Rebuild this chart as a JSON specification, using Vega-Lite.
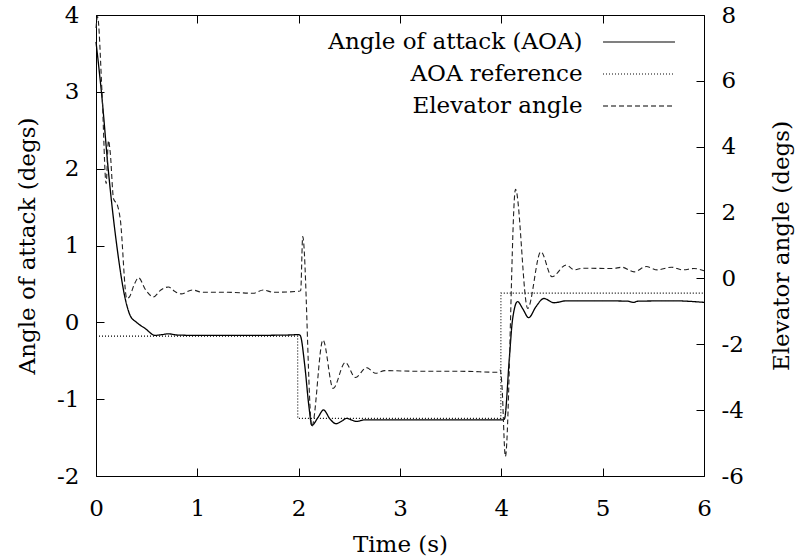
{
  "$schema": "https://vega.github.io/schema/vega-lite/v6.json",
  "width": 608,
  "height": 461,
  "autosize": {"type": "none"},
  "padding": {"left": 96, "top": 15, "right": 97, "bottom": 84},
  "background": "white",
  "config": {
    "view": {"stroke": "black", "strokeWidth": 1},
    "font": "DejaVu Serif",
    "axis": {
      "grid": false,
      "domain": false,
      "tickColor": "black",
      "tickSize": -8,
      "tickWidth": 1,
      "labelFlush": false,
      "labelOverlap": false,
      "labelFont": "DejaVu Serif",
      "labelFontSize": 23,
      "labelColor": "black",
      "titleFont": "DejaVu Serif",
      "titleFontSize": 23,
      "titleFontWeight": "normal",
      "titleColor": "black"
    }
  },
  "datasets": {
    "left": [
      {"t": 0, "v": 3.65, "series": "Angle of attack (AOA)"},
      {"t": 0.057, "v": 2.95, "series": "Angle of attack (AOA)"},
      {"t": 0.123, "v": 1.96, "series": "Angle of attack (AOA)"},
      {"t": 0.205, "v": 1.0, "series": "Angle of attack (AOA)"},
      {"t": 0.288, "v": 0.31, "series": "Angle of attack (AOA)"},
      {"t": 0.337, "v": 0.09, "series": "Angle of attack (AOA)"},
      {"t": 0.4, "v": 0.0, "series": "Angle of attack (AOA)"},
      {"t": 0.485, "v": -0.08, "series": "Angle of attack (AOA)"},
      {"t": 0.584, "v": -0.17, "series": "Angle of attack (AOA)"},
      {"t": 0.65, "v": -0.16, "series": "Angle of attack (AOA)"},
      {"t": 0.715, "v": -0.15, "series": "Angle of attack (AOA)"},
      {"t": 0.8, "v": -0.165, "series": "Angle of attack (AOA)"},
      {"t": 1.0, "v": -0.17, "series": "Angle of attack (AOA)"},
      {"t": 1.5, "v": -0.17, "series": "Angle of attack (AOA)"},
      {"t": 1.9, "v": -0.165, "series": "Angle of attack (AOA)"},
      {"t": 2.0, "v": -0.16, "series": "Angle of attack (AOA)"},
      {"t": 2.015, "v": -0.17, "series": "Angle of attack (AOA)"},
      {"t": 2.06, "v": -0.56, "series": "Angle of attack (AOA)"},
      {"t": 2.1, "v": -1.08, "series": "Angle of attack (AOA)"},
      {"t": 2.13, "v": -1.34, "series": "Angle of attack (AOA)"},
      {"t": 2.19, "v": -1.24, "series": "Angle of attack (AOA)"},
      {"t": 2.245, "v": -1.14, "series": "Angle of attack (AOA)"},
      {"t": 2.31, "v": -1.26, "series": "Angle of attack (AOA)"},
      {"t": 2.37, "v": -1.32, "series": "Angle of attack (AOA)"},
      {"t": 2.42, "v": -1.29, "series": "Angle of attack (AOA)"},
      {"t": 2.475, "v": -1.25, "series": "Angle of attack (AOA)"},
      {"t": 2.52, "v": -1.27, "series": "Angle of attack (AOA)"},
      {"t": 2.57, "v": -1.29, "series": "Angle of attack (AOA)"},
      {"t": 2.65, "v": -1.27, "series": "Angle of attack (AOA)"},
      {"t": 3.0, "v": -1.27, "series": "Angle of attack (AOA)"},
      {"t": 3.5, "v": -1.27, "series": "Angle of attack (AOA)"},
      {"t": 4.0, "v": -1.27, "series": "Angle of attack (AOA)"},
      {"t": 4.03, "v": -1.26, "series": "Angle of attack (AOA)"},
      {"t": 4.08, "v": -0.45, "series": "Angle of attack (AOA)"},
      {"t": 4.11, "v": 0.03, "series": "Angle of attack (AOA)"},
      {"t": 4.16, "v": 0.27, "series": "Angle of attack (AOA)"},
      {"t": 4.21, "v": 0.18, "series": "Angle of attack (AOA)"},
      {"t": 4.27, "v": 0.06, "series": "Angle of attack (AOA)"},
      {"t": 4.34, "v": 0.2, "series": "Angle of attack (AOA)"},
      {"t": 4.42, "v": 0.31, "series": "Angle of attack (AOA)"},
      {"t": 4.52, "v": 0.255, "series": "Angle of attack (AOA)"},
      {"t": 4.64, "v": 0.28, "series": "Angle of attack (AOA)"},
      {"t": 5.0, "v": 0.28, "series": "Angle of attack (AOA)"},
      {"t": 5.25, "v": 0.275, "series": "Angle of attack (AOA)"},
      {"t": 5.3, "v": 0.26, "series": "Angle of attack (AOA)"},
      {"t": 5.35, "v": 0.275, "series": "Angle of attack (AOA)"},
      {"t": 5.7, "v": 0.28, "series": "Angle of attack (AOA)"},
      {"t": 6.0, "v": 0.26, "series": "Angle of attack (AOA)"},
      {"t": 0, "v": -0.18, "series": "AOA reference"},
      {"t": 1.99, "v": -0.18, "series": "AOA reference"},
      {"t": 1.991, "v": -1.25, "series": "AOA reference"},
      {"t": 3.995, "v": -1.25, "series": "AOA reference"},
      {"t": 3.996, "v": 0.38, "series": "AOA reference"},
      {"t": 6.0, "v": 0.38, "series": "AOA reference"}
    ],
    "right": [
      {"t": 0, "v": 7.6, "series": "Elevator angle"},
      {"t": 0.015, "v": 7.95, "series": "Elevator angle"},
      {"t": 0.06, "v": 5.6, "series": "Elevator angle"},
      {"t": 0.1, "v": 2.88, "series": "Elevator angle"},
      {"t": 0.123, "v": 4.19, "series": "Elevator angle"},
      {"t": 0.14, "v": 3.84, "series": "Elevator angle"},
      {"t": 0.173, "v": 2.42, "series": "Elevator angle"},
      {"t": 0.212, "v": 2.22, "series": "Elevator angle"},
      {"t": 0.239, "v": 1.81, "series": "Elevator angle"},
      {"t": 0.304, "v": -0.61, "series": "Elevator angle"},
      {"t": 0.33, "v": -0.56, "series": "Elevator angle"},
      {"t": 0.375, "v": -0.2, "series": "Elevator angle"},
      {"t": 0.42, "v": 0.02, "series": "Elevator angle"},
      {"t": 0.49, "v": -0.35, "series": "Elevator angle"},
      {"t": 0.567, "v": -0.56, "series": "Elevator angle"},
      {"t": 0.64, "v": -0.35, "series": "Elevator angle"},
      {"t": 0.715, "v": -0.26, "series": "Elevator angle"},
      {"t": 0.78, "v": -0.4, "series": "Elevator angle"},
      {"t": 0.84, "v": -0.47, "series": "Elevator angle"},
      {"t": 0.95, "v": -0.35, "series": "Elevator angle"},
      {"t": 1.05, "v": -0.42, "series": "Elevator angle"},
      {"t": 1.3, "v": -0.42, "series": "Elevator angle"},
      {"t": 1.55, "v": -0.45, "series": "Elevator angle"},
      {"t": 1.65, "v": -0.35, "series": "Elevator angle"},
      {"t": 1.75, "v": -0.42, "series": "Elevator angle"},
      {"t": 2.0, "v": -0.39, "series": "Elevator angle"},
      {"t": 2.02, "v": -0.37, "series": "Elevator angle"},
      {"t": 2.04, "v": 1.27, "series": "Elevator angle"},
      {"t": 2.13, "v": -4.5, "series": "Elevator angle"},
      {"t": 2.24, "v": -1.87, "series": "Elevator angle"},
      {"t": 2.34, "v": -3.34, "series": "Elevator angle"},
      {"t": 2.46, "v": -2.55, "series": "Elevator angle"},
      {"t": 2.56, "v": -3.01, "series": "Elevator angle"},
      {"t": 2.67, "v": -2.71, "series": "Elevator angle"},
      {"t": 2.76, "v": -2.88, "series": "Elevator angle"},
      {"t": 2.85, "v": -2.8, "series": "Elevator angle"},
      {"t": 3.2, "v": -2.82, "series": "Elevator angle"},
      {"t": 3.6, "v": -2.82, "series": "Elevator angle"},
      {"t": 3.96, "v": -2.85, "series": "Elevator angle"},
      {"t": 3.99, "v": -2.78, "series": "Elevator angle"},
      {"t": 4.005, "v": -3.2, "series": "Elevator angle"},
      {"t": 4.04, "v": -5.41, "series": "Elevator angle"},
      {"t": 4.14, "v": 2.71, "series": "Elevator angle"},
      {"t": 4.26, "v": -0.91, "series": "Elevator angle"},
      {"t": 4.39, "v": 0.81, "series": "Elevator angle"},
      {"t": 4.5, "v": 0.05, "series": "Elevator angle"},
      {"t": 4.64, "v": 0.41, "series": "Elevator angle"},
      {"t": 4.72, "v": 0.26, "series": "Elevator angle"},
      {"t": 4.8, "v": 0.31, "series": "Elevator angle"},
      {"t": 5.1, "v": 0.3, "series": "Elevator angle"},
      {"t": 5.19, "v": 0.34, "series": "Elevator angle"},
      {"t": 5.31, "v": 0.2, "series": "Elevator angle"},
      {"t": 5.43, "v": 0.36, "series": "Elevator angle"},
      {"t": 5.54, "v": 0.26, "series": "Elevator angle"},
      {"t": 5.68, "v": 0.34, "series": "Elevator angle"},
      {"t": 5.79, "v": 0.26, "series": "Elevator angle"},
      {"t": 5.9, "v": 0.3, "series": "Elevator angle"},
      {"t": 6.0, "v": 0.23, "series": "Elevator angle"}
    ]
  },
  "layer": [
    {
      "data": {"name": "left"},
      "encoding": {
        "x": {
          "field": "t", "type": "quantitative",
          "scale": {"domain": [0, 6], "nice": false, "zero": false},
          "axis": {"orient": "bottom", "values": [0, 1, 2, 3, 4, 5, 6], "title": "Time (s)", "labelPadding": 29, "titlePadding": 13, "labelExpr": "datum.value + ''"}
        },
        "y": {
          "field": "v", "type": "quantitative",
          "scale": {"domain": [-2, 4], "nice": false, "zero": false},
          "axis": {"orient": "left", "values": [-2, -1, 0, 1, 2, 3, 4], "title": "Angle of attack (degs)", "labelPadding": 25, "titlePadding": 17, "labelExpr": "datum.value + ''"}
        },
        "strokeDash": {
          "field": "series", "type": "nominal",
          "scale": {"domain": ["Angle of attack (AOA)", "AOA reference", "Elevator angle"], "range": [[1, 0], [1, 2], [5, 3]]},
          "legend": {
            "title": null, "orient": "none", "legendX": 531.5, "legendY": 15.5,
            "symbolType": "M-5,0H5", "symbolSize": 207, "symbolStrokeWidth": 1.2, "symbolStrokeColor": "black",
            "labelAlign": "right", "labelOffset": -68, "labelFont": "DejaVu Serif", "labelFontSize": 23,
            "labelColor": "black", "labelLimit": 0, "rowPadding": 8, "padding": 0
          }
        }
      },
      "layer": [
        {
          "transform": [{"filter": "datum.series === 'Angle of attack (AOA)'"}],
          "mark": {"type": "line", "color": "black", "strokeWidth": 1.3, "interpolate": "monotone"}
        },
        {
          "transform": [{"filter": "datum.series === 'AOA reference'"}],
          "mark": {"type": "line", "color": "black", "strokeWidth": 1.1}
        }
      ]
    },
    {
      "data": {"name": "right"},
      "mark": {"type": "line", "color": "#222", "strokeWidth": 1.1, "interpolate": "monotone"},
      "encoding": {
        "x": {
          "field": "t", "type": "quantitative",
          "scale": {"domain": [0, 6], "nice": false, "zero": false},
          "axis": {"orient": "top", "values": [0, 1, 2, 3, 4, 5, 6], "labels": false, "title": null}
        },
        "y": {
          "field": "v", "type": "quantitative",
          "scale": {"domain": [-6, 8], "nice": false, "zero": false},
          "axis": {"orient": "right", "values": [-6, -4, -2, 0, 2, 4, 6, 8], "title": "Elevator angle (degs)", "titleAngle": -90, "labelPadding": 25, "titlePadding": 50, "labelExpr": "datum.value + ''"}
        },
        "strokeDash": {
          "field": "series", "type": "nominal",
          "scale": {"domain": ["Angle of attack (AOA)", "AOA reference", "Elevator angle"], "range": [[1, 0], [1, 2], [5, 3]]},
          "legend": {
            "title": null, "orient": "none", "legendX": 531.5, "legendY": 15.5,
            "symbolType": "M-5,0H5", "symbolSize": 207, "symbolStrokeWidth": 1.2, "symbolStrokeColor": "black",
            "labelAlign": "right", "labelOffset": -68, "labelFont": "DejaVu Serif", "labelFontSize": 23,
            "labelColor": "black", "labelLimit": 0, "rowPadding": 8, "padding": 0
          }
        }
      }
    }
  ],
  "resolve": {"scale": {"y": "independent"}, "axis": {"x": "independent"}}
}
